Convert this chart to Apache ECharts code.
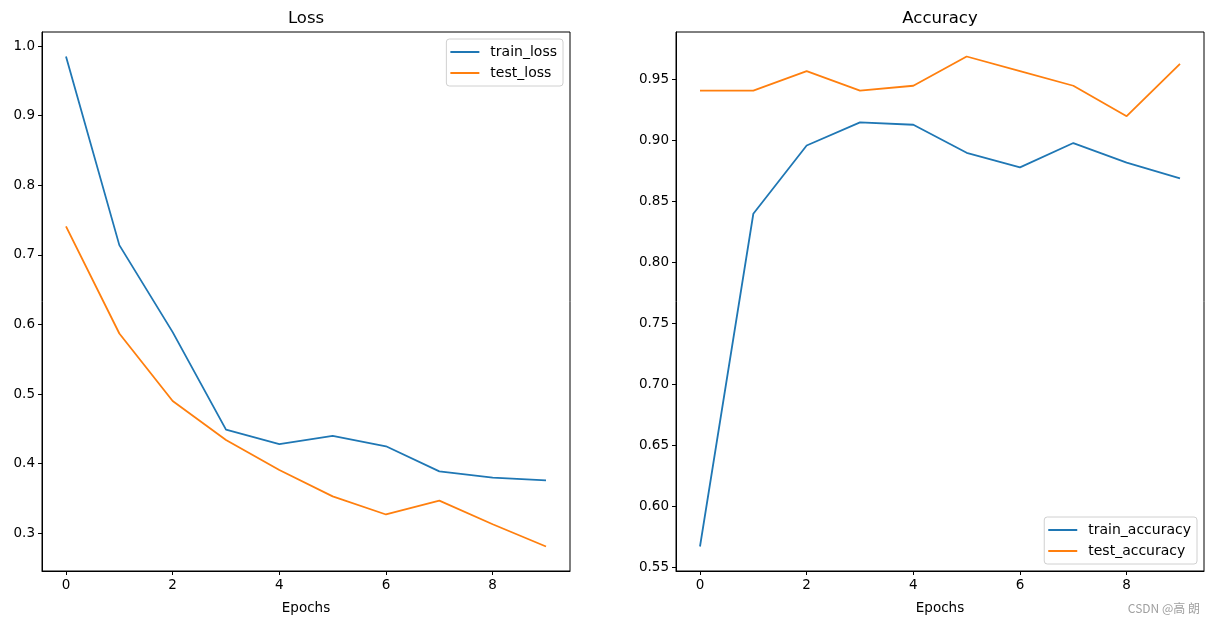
<!DOCTYPE html>
<html>
<head>
<meta charset="utf-8">
<script src="https://cdn.jsdelivr.net/npm/echarts@6/dist/echarts.min.js"></script>
<style>
html,body{margin:0;padding:0;background:#fff;}
#chart{width:1214px;height:624px;}
</style>
</head>
<body>
<div id="chart"></div>
<script>
const epochs = [0,1,2,3,4,5,6,7,8,9];
const trainLoss = [0.985,0.714,0.589,0.449,0.428,0.440,0.425,0.389,0.380,0.376];
const testLoss = [0.741,0.587,0.490,0.434,0.391,0.353,0.327,0.347,0.313,0.281];
const trainAcc = [0.567,0.840,0.896,0.915,0.913,0.890,0.878,0.898,0.882,0.869];
const testAcc = [0.941,0.941,0.957,0.941,0.945,0.969,0.957,0.945,0.920,0.963];
const xTicks = [0,2,4,6,8];
const lossTicks = [0.3,0.4,0.5,0.6,0.7,0.8,0.9,1.0];
const accTicks = [0.55,0.60,0.65,0.70,0.75,0.80,0.85,0.90,0.95];

const FONT = 'DejaVu Sans';
const pairs = arr => epochs.map((e,i)=>[e, arr[i]]);
function pad(arr){ const mn=Math.min(...arr), mx=Math.max(...arr), r=(mx-mn)*0.05; return [mn-r, mx+r]; }
const lossRange = pad(trainLoss.concat(testLoss));
const accRange = pad(trainAcc.concat(testAcc));
const xRange = [-0.45, 9.45];

function xAxis(gi){
  return {
    type:'value', gridIndex:gi, min:xRange[0], max:xRange[1],
    name:'Epochs', nameLocation:'middle', nameGap:30,
    nameTextStyle:{color:'#000', fontFamily:FONT, fontSize:13.5},
    axisLine:{show:true, onZero:false, lineStyle:{color:'#000', width:1}},
    axisTick:{show:true, inside:false, length:4, customValues:xTicks, lineStyle:{color:'#000'}},
    axisLabel:{show:true, margin:7, customValues:xTicks, color:'#000', fontFamily:FONT, fontSize:13.5},
    splitLine:{show:false}
  };
}
function yAxis(gi, range, ticks, dec){
  return {
    type:'value', gridIndex:gi, min:range[0], max:range[1],
    axisLine:{show:true, onZero:false, lineStyle:{color:'#000', width:1}},
    axisTick:{show:true, inside:false, length:4, customValues:ticks, lineStyle:{color:'#000'}},
    axisLabel:{show:true, margin:7, customValues:ticks, color:'#000', fontFamily:FONT, fontSize:13.5,
      formatter:v=>Number(v).toFixed(dec)},
    splitLine:{show:false}
  };
}
function line(name, data, color, gi){
  return {name, type:'line', xAxisIndex:gi, yAxisIndex:gi, data:pairs(data),
    symbol:'none', showSymbol:false, lineStyle:{color, width:1.8}, itemStyle:{color},
    animation:false, silent:true};
}
const legendCommon = {
  orient:'vertical', icon:'rect', itemWidth:29, itemHeight:2, itemGap:7,
  padding:[6,6,6,4], backgroundColor:'#fff', borderColor:'#d0d0d0', borderWidth:1, borderRadius:3,
  textStyle:{color:'#000', fontFamily:FONT, fontSize:14, padding:[0,0,0,6]}, align:'left', selectedMode:false
};

const chart = echarts.init(document.getElementById('chart'), null, {renderer:'canvas'});
chart.setOption({
  backgroundColor:'#fff',
  animation:false,
  grid:[
    {left:42, width:528, top:32, height:539, show:true, borderColor:'#000', borderWidth:1, backgroundColor:'transparent'},
    {left:676, width:528, top:32, height:539, show:true, borderColor:'#000', borderWidth:1, backgroundColor:'transparent'}
  ],
  xAxis:[xAxis(0), xAxis(1)],
  yAxis:[yAxis(0, lossRange, lossTicks, 1), yAxis(1, accRange, accTicks, 2)],
  legend:[
    Object.assign({}, legendCommon, {data:['train_loss','test_loss'], right:651, top:39}),
    Object.assign({}, legendCommon, {data:['train_accuracy','test_accuracy'], right:17, bottom:60})
  ],
  series:[
    line('train_loss', trainLoss, '#1f77b4', 0),
    line('test_loss', testLoss, '#ff7f0e', 0),
    line('train_accuracy', trainAcc, '#1f77b4', 1),
    line('test_accuracy', testAcc, '#ff7f0e', 1)
  ],
  graphic:[
    {type:'text', x:306, y:19, style:{text:'Loss', textAlign:'center', textVerticalAlign:'middle', fill:'#000', font:'16.5px "DejaVu Sans"'}},
    {type:'text', x:940, y:19, style:{text:'Accuracy', textAlign:'center', textVerticalAlign:'middle', fill:'#000', font:'16.5px "DejaVu Sans"'}},
    {type:'text', x:1200, y:608, style:{text:'CSDN @高 朗', textAlign:'right', textVerticalAlign:'middle', fill:'#a0a0a0', font:'12px "Noto Sans CJK SC"'}}
  ]
});
</script>
</body>
</html>
